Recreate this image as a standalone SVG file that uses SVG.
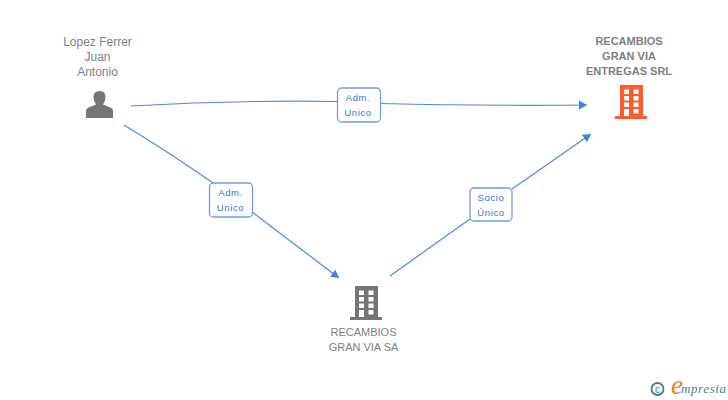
<svg xmlns="http://www.w3.org/2000/svg" width="728" height="400" viewBox="0 0 728 400">
<style>
text{font-family:"Liberation Sans",Arial,sans-serif}
.name{font-size:11px;fill:#7f7f7f;text-anchor:middle}
.big{font-size:12px}
.bold{font-weight:bold;fill:#7f7f7f}
.lab{font-size:9.500px;fill:#2f74e0;text-anchor:middle;letter-spacing:.6px}
.box{fill:#fff;stroke:#6e9fe6;stroke-width:1.3}
.con{fill:none;stroke:#4a88e8;stroke-width:1.2;marker-end:url(#a)}
</style>
<defs>
<marker id="a" markerUnits="userSpaceOnUse" markerWidth="10" markerHeight="10" refX="8" refY="5" orient="auto"><path d="M0 0.500L8 5L0 9.500Z" fill="#3f80e6"/></marker>
<g id="bld">
<path fill-rule="evenodd" d="M5 0H28V31H32V34H0V31H5ZM9 4.500V9H14V4.500ZM18.500 4.500V9H23.500V4.500ZM9 11V15.500H14V11ZM18.500 11V15.500H23.500V11ZM9 17.500V22H14V17.500ZM18.500 17.500V22H23.500V17.500ZM9 24V31H14V24ZM18.500 24V28.500H23.500V24Z"/>
</g>
</defs>
<g id="connectors">
<path class="con" d="M131 106Q235 100 337 101.500M381 103.500Q480 106 587 105"/>
<path class="con" d="M124 125Q170 153 213 183M252 212L339 278"/>
<path class="con" d="M390 276L470 219M512 189L591 134"/>
</g>
<g id="person">
<text class="name big" x="97.500" y="46">Lopez Ferrer</text>
<text class="name big" x="97.500" y="61">Juan</text>
<text class="name big" x="97.500" y="76">Antonio</text>
<path fill="#757575" d="M86 118V111Q86 108 90 107L96 104.500Q93.500 101 93.500 97Q93.500 91 99.500 91Q105.500 91 105.500 97Q105.500 101 103 104.500L109 107Q113 108 113 111V118Z"/>
</g>
<g id="entregas">
<text class="name bold" x="629" y="45">RECAMBIOS</text>
<text class="name bold" x="629" y="60">GRAN VIA</text>
<text class="name bold" x="629" y="75">ENTREGAS SRL</text>
<use href="#bld" x="615" y="85" fill="#ff5c2e"/>
</g>
<g id="granvia">
<use href="#bld" x="350" y="286" fill="#757575"/>
<text class="name" x="363.500" y="336">RECAMBIOS</text>
<text class="name" x="363.500" y="351">GRAN VIA SA</text>
</g>
<g id="label1">
<rect class="box" x="337.500" y="88" width="43" height="34" rx="4"/>
<text class="lab" x="358" y="101">Adm.</text>
<text class="lab" x="358" y="116">Unico</text>
</g>
<g id="label2">
<rect class="box" x="209.500" y="183" width="43" height="34" rx="4"/>
<text class="lab" x="230.500" y="196">Adm.</text>
<text class="lab" x="230.500" y="211">Unico</text>
</g>
<g id="label3">
<rect class="box" x="470" y="188" width="42" height="33" rx="4"/>
<text class="lab" x="491" y="201">Socio</text>
<text class="lab" x="491" y="216">Único</text>
</g>
<g id="logo">
<circle cx="657.500" cy="389" r="6" fill="none" stroke="#3f7f93" stroke-width="1.800"/>
<text x="657.500" y="392.500" font-size="10" fill="#3f7f93" text-anchor="middle">c</text>
<text x="671" y="394" font-size="27" font-style="italic" fill="#f08010" style="font-family:'Liberation Serif',serif">e</text>
<text x="681" y="393" font-size="13" font-style="italic" fill="#3f7f93" style="font-family:'Liberation Serif',serif;letter-spacing:.6px">mpresia</text>
</g>
</svg>
